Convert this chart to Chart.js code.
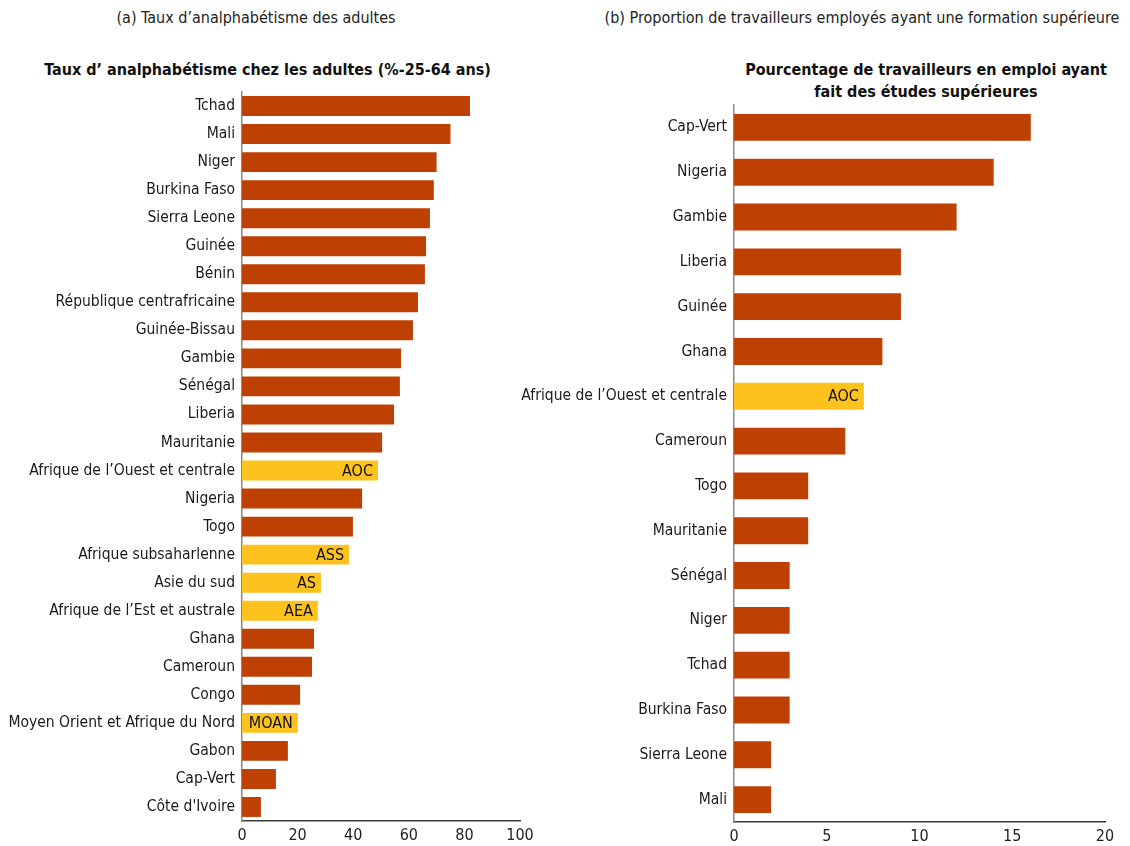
<!DOCTYPE html>
<html>
<head>
<meta charset="utf-8">
<script src="https://cdn.jsdelivr.net/npm/chart.js@4"></script>
<style>
  body { margin: 0; width: 1130px; height: 846px; background: #fff; position: relative; overflow: hidden;
         font-family: "DejaVu Sans Condensed", "Liberation Sans Narrow", sans-serif; }
  .t { position: absolute; white-space: nowrap; text-align: center; }
  .head { font-size: 16px; color: #222; top: 8px; }
  .sub { font-size: 16px; font-weight: bold; color: #111; line-height: 22px; }
  canvas { position: absolute; }
</style>
</head>
<body>
<div class="t head" style="left:0; width:512px;">(a) Taux d’analphabétisme des adultes</div>
<div class="t sub" style="left:0; width:535px; top:59px;">Taux d’ analphabétisme chez les adultes (%-25-64 ans)</div>
<div class="t head" style="left:600px; width:524px;">(b) Proportion de travailleurs employés ayant une formation supérieure</div>
<div class="t sub" style="left:726px; width:400px; top:59px;">Pourcentage de travailleurs en emploi ayant<br>fait des études supérieures</div>

<div style="position:absolute; left:0; top:80px; width:545px; height:766px;"><canvas id="chartA"></canvas></div>
<div style="position:absolute; left:500px; top:100px; width:630px; height:746px;"><canvas id="chartB"></canvas></div>

<script>
// (a) illiteracy rate, adults 25-64
const illitCountries = [
  'Tchad', 'Mali', 'Niger', 'Burkina Faso', 'Sierra Leone', 'Guinée', 'Bénin',
  'République centrafricaine', 'Guinée-Bissau', 'Gambie', 'Sénégal', 'Liberia',
  'Mauritanie', 'Afrique de l’Ouest et centrale', 'Nigeria', 'Togo',
  'Afrique subsaharlenne', 'Asie du sud', 'Afrique de l’Est et australe', 'Ghana',
  'Cameroun', 'Congo', 'Moyen Orient et Afrique du Nord', 'Gabon', 'Cap-Vert', 'Côte d\'Ivoire'
];
const illitValues = [
  82, 75, 70, 69, 67.6, 66.2, 65.8, 63.3, 61.5, 57.2, 56.8, 54.7, 50.4,
  48.9, 43.2, 39.9, 38.5, 28.4, 27.3, 25.9, 25.2, 20.9, 20.1, 16.5, 12.2, 6.8
];
const illitTags = [
  '', '', '', '', '', '', '', '', '', '', '', '', '', 'AOC', '', '', 'ASS', 'AS', 'AEA',
  '', '', '', 'MOAN', '', '', ''
];
const illitTicks = [0, 20, 40, 60, 80, 100];

// (b) share of employed workers with higher education
const eduCountries = [
  'Cap-Vert', 'Nigeria', 'Gambie', 'Liberia', 'Guinée', 'Ghana',
  'Afrique de l’Ouest et centrale', 'Cameroun', 'Togo', 'Mauritanie', 'Sénégal',
  'Niger', 'Tchad', 'Burkina Faso', 'Sierra Leone', 'Mali'
];
const eduValues = [16, 14, 12, 9, 9, 8, 7, 6, 4, 4, 3, 3, 3, 3, 2, 2];
const eduTags = ['', '', '', '', '', '', 'AOC', '', '', '', '', '', '', '', '', ''];
const eduTicks = [0, 5, 10, 15, 20];

const FONT = '"DejaVu Sans Condensed", "Liberation Sans Narrow", sans-serif';
const RUST = '#bf4003';
const GOLD = '#fec21f';

// regional aggregates get a short code written inside the bar
const tagPlugin = {
  id: 'tags',
  afterDatasetsDraw(chart) {
    const tags = chart.options.plugins.tags.list;
    const ctx = chart.ctx;
    const meta = chart.getDatasetMeta(0);
    ctx.save();
    ctx.font = '16px ' + FONT;
    ctx.fillStyle = '#111';
    ctx.textAlign = 'right';
    ctx.textBaseline = 'middle';
    meta.data.forEach((bar, i) => {
      if (tags[i]) ctx.fillText(tags[i], bar.x - 5, bar.y + 1);
    });
    ctx.restore();
  }
};

function makeChart(id, labels, values, tags, ticks, max, barPct, axisW, axisH, padTop) {
  return new Chart(document.getElementById(id), {
    type: 'bar',
    data: {
      labels,
      datasets: [{
        data: values,
        backgroundColor: tags.map(t => t ? GOLD : RUST),
        borderWidth: 0,
        categoryPercentage: 1,
        barPercentage: barPct
      }]
    },
    options: {
      indexAxis: 'y',
      animation: false,
      responsive: true,
      maintainAspectRatio: false,
      layout: { padding: { top: padTop, right: 25, bottom: 0, left: 0 } },
      scales: {
        x: {
          min: 0, max,
          afterFit: s => { s.height = axisH; },
          afterBuildTicks: s => { s.ticks = ticks.map(v => ({ value: v })); },
          grid: { display: false, drawTicks: false },
          border: { display: true, color: '#3a3a3a', width: 1.5 },
          ticks: { color: '#222', padding: 5, font: { family: FONT, size: 16 } }
        },
        y: {
          // labels sit in the middle of their band, no need for extra room above/below
          afterFit: s => { s.width = axisW; s.paddingTop = 0; s.paddingBottom = 0; },
          grid: { display: false, drawTicks: false },
          border: { display: true, color: '#8a8a8a', width: 1.5 },
          ticks: { color: '#1a1a1a', padding: 7, font: { family: FONT, size: 15.5 } }
        }
      },
      plugins: {
        legend: { display: false },
        tooltip: { enabled: false },
        tags: { list: tags }
      }
    },
    plugins: [tagPlugin]
  });
}

makeChart('chartA', illitCountries, illitValues, illitTags, illitTicks, 100, 0.71, 242, 25, 12);
makeChart('chartB', eduCountries, eduValues, eduTags, eduTicks, 20, 0.6, 234, 24, 5);
</script>
</body>
</html>
